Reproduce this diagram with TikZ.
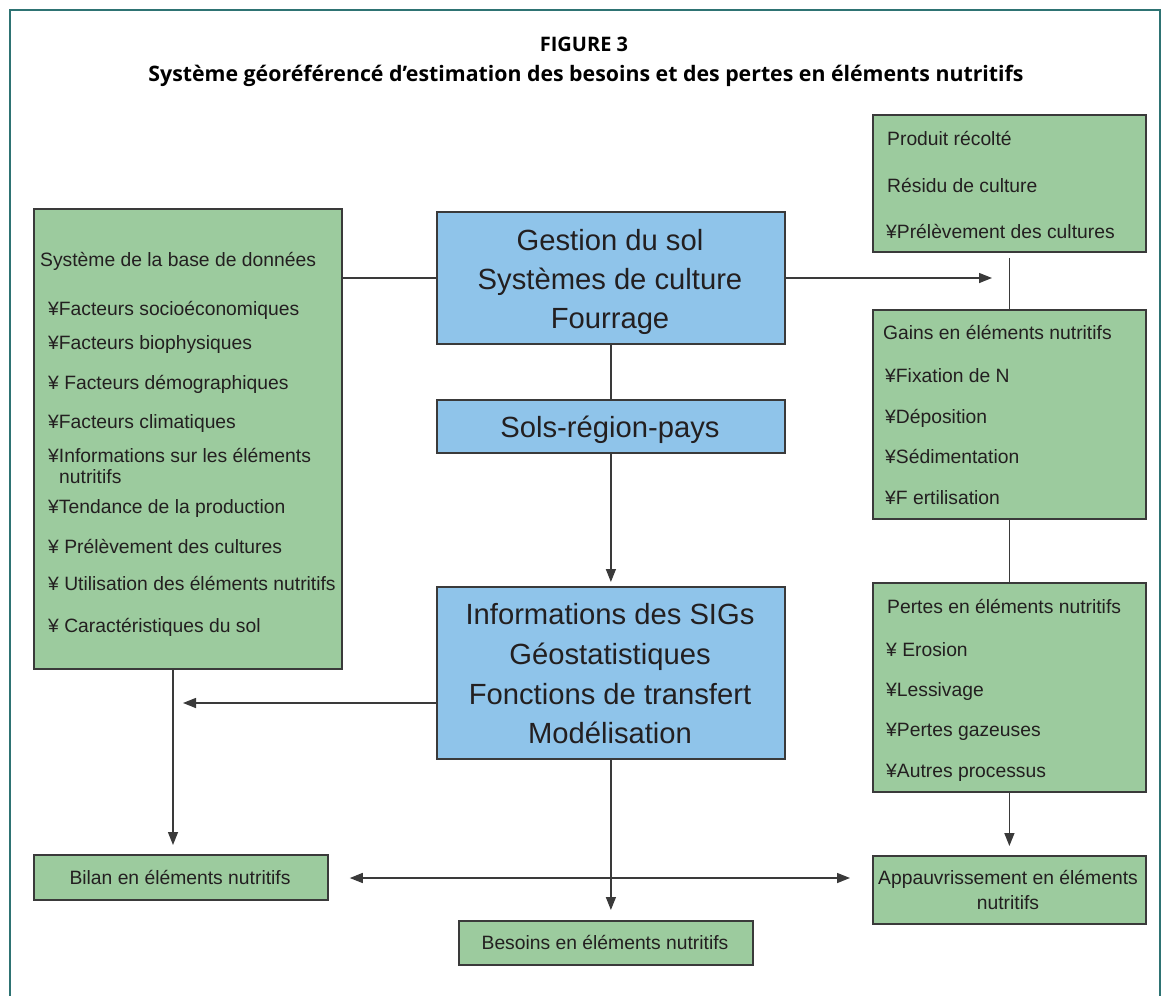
\documentclass[tikz,border=0pt]{standalone}
\usepackage{fontspec}
\setmainfont{Liberation Sans}
\newfontfamily\headfont{Open Sans}
\usetikzlibrary{arrows.meta}
\definecolor{framec}{HTML}{2E7373}
\definecolor{gfill}{HTML}{9CCB9E}
\definecolor{bfill}{HTML}{8FC4EA}
\definecolor{ink}{HTML}{231F20}
\definecolor{edgec}{HTML}{3A3A3A}

\begin{document}
\begin{tikzpicture}[x=1pt,y=-1pt,
  box/.style={draw=edgec, line width=1.8pt, inner sep=0, anchor=north west},
  gbox/.style={box, fill=gfill},
  bbox/.style={box, fill=bfill},
  item/.style={anchor=base west, inner sep=0, text=ink, font=\fontsize{19.3}{23}\selectfont},
  citem/.style={anchor=base, inner sep=0, text=ink, font=\fontsize{19.3}{23}\selectfont},
  big/.style={anchor=base, inner sep=0, text=ink, font=\fontsize{29.2}{34}\selectfont},
  head/.style={anchor=base, inner sep=0, text=black, font=\headfont\bfseries\fontsize{21.3}{25}\selectfont},
  link/.style={draw=edgec, line width=1.4pt},
  arr/.style={link, -{Triangle[length=13pt,width=10pt]}},
]
\useasboundingbox (0,0) rectangle (1165,996);
\fill[white] (0,0) rectangle (1165,996);

% frame
\draw[framec, line width=2.4pt] (10,996) -- (10,10) -- (1160,10) -- (1160,996);

% heading
\node[head, font=\headfont\bfseries\fontsize{20}{24}\selectfont] (fig) at (584,51) {FIGURE 3};
\node[head] (title) at (586,81) {Système géoréférencé d’estimation des besoins et des pertes en éléments nutritifs};

% boxes
\node[gbox, minimum width=308pt, minimum height=460pt] (db) at (33,208) {};
\node[bbox, minimum width=348pt, minimum height=132pt] (gest) at (436,211) {};
\node[bbox, minimum width=348pt, minimum height=53pt] (sols) at (436,399) {};
\node[bbox, minimum width=348pt, minimum height=172pt] (sig) at (436,586) {};
\node[gbox, minimum width=273pt, minimum height=137pt] (prod) at (872,114) {};
\node[gbox, minimum width=273pt, minimum height=209pt] (gains) at (872,309) {};
\node[gbox, minimum width=273pt, minimum height=209pt] (pertes) at (872,582) {};
\node[gbox, minimum width=273pt, minimum height=68pt] (appau) at (872,855) {};
\node[gbox, minimum width=294pt, minimum height=45pt] (bilan) at (33,854) {};
\node[gbox, minimum width=294pt, minimum height=44pt] (besoins) at (458,920) {};

% database box
\node[item] (db0) at (40,266) {Système de la base de données};
\node[item] (db1) at (48,315) {¥Facteurs socioéconomiques};
\node[item] (db2) at (48,349) {¥Facteurs biophysiques};
\node[item] (db3) at (48,389) {¥ Facteurs démographiques};
\node[item] (db4) at (48,428) {¥Facteurs climatiques};
\node[item] (db5) at (48,462) {¥Informations sur les éléments};
\node[item] (db5b) at (59,483) {nutritifs};
\node[item] (db6) at (48,513) {¥Tendance de la production};
\node[item] (db7) at (48,553) {¥ Prélèvement des cultures};
\node[item] (db8) at (48,590) {¥ Utilisation des éléments nutritifs};
\node[item] (db9) at (48,632) {¥ Caractéristiques du sol};

% central boxes
\node[big] (g1) at (610,250) {Gestion du sol};
\node[big] (g2) at (610,289) {Systèmes de culture};
\node[big] (g3) at (610,328) {Fourrage};
\node[big] (s1) at (610,437) {Sols-région-pays};
\node[big] (i1) at (610,624) {Informations des SIGs};
\node[big] (i2) at (610,664) {Géostatistiques};
\node[big] (i3) at (610,704) {Fonctions de transfert};
\node[big] (i4) at (610,743) {Modélisation};

% right column
\node[item] (p1) at (887,145) {Produit récolté};
\node[item] (p2) at (887,192) {Résidu de culture};
\node[item] (p3) at (886,238) {¥Prélèvement des cultures};

\node[item] (ga0) at (883,339) {Gains en éléments nutritifs};
\node[item] (ga1) at (885,382) {¥Fixation de N};
\node[item] (ga2) at (885,423) {¥Déposition};
\node[item] (ga3) at (885,463) {¥Sédimentation};
\node[item] (ga4) at (885,504) {¥F ertilisation};

\node[item] (pe0) at (887,613) {Pertes en éléments nutritifs};
\node[item] (pe1) at (886,656) {¥ Erosion};
\node[item] (pe2) at (886,696) {¥Lessivage};
\node[item] (pe3) at (886,736) {¥Pertes gazeuses};
\node[item] (pe4) at (886,777) {¥Autres processus};

% bottom boxes
\node[citem] (a1) at (1008,884) {Appauvrissement en éléments};
\node[citem] (a2) at (1008,909) {nutritifs};
\node[citem] (b1) at (180,884) {Bilan en éléments nutritifs};
\node[citem] (be1) at (605,949) {Besoins en éléments nutritifs};

% connectors
\coordinate (tipR) at (992,278);
\coordinate (tipL) at (183,703);
\draw[link] (gest.west |- 0,278) -- (db.east |- 0,278);
\draw[arr] (gest.east |- 0,278) -- (tipR);
\draw[link] ([yshift=-5pt]prod.south) -- (gains.north);
\draw[link] (gains.south) -- (pertes.north);
\draw[arr, shorten >=9pt] (pertes.south) -- (appau.north);
\draw[link] (gest.south) -- (sols.north);
\draw[arr, shorten >=4pt] (sols.south) -- (sig.north);
\draw[arr] (sig.west |- 0,703) -- (tipL);
\draw[arr, shorten >=9pt] ([xshift=140pt]db.south west) -- ([xshift=140pt]db.south west |- bilan.north);
\draw[arr, {Triangle[length=13pt,width=10pt]}-{Triangle[length=13pt,width=10pt]}, shorten <=21pt, shorten >=22pt] (bilan.east |- 0,878) -- (appau.west |- 0,878);
\draw[arr, shorten >=10pt] (sig.south) -- (sig.south |- besoins.north);
\end{tikzpicture}
\end{document}
